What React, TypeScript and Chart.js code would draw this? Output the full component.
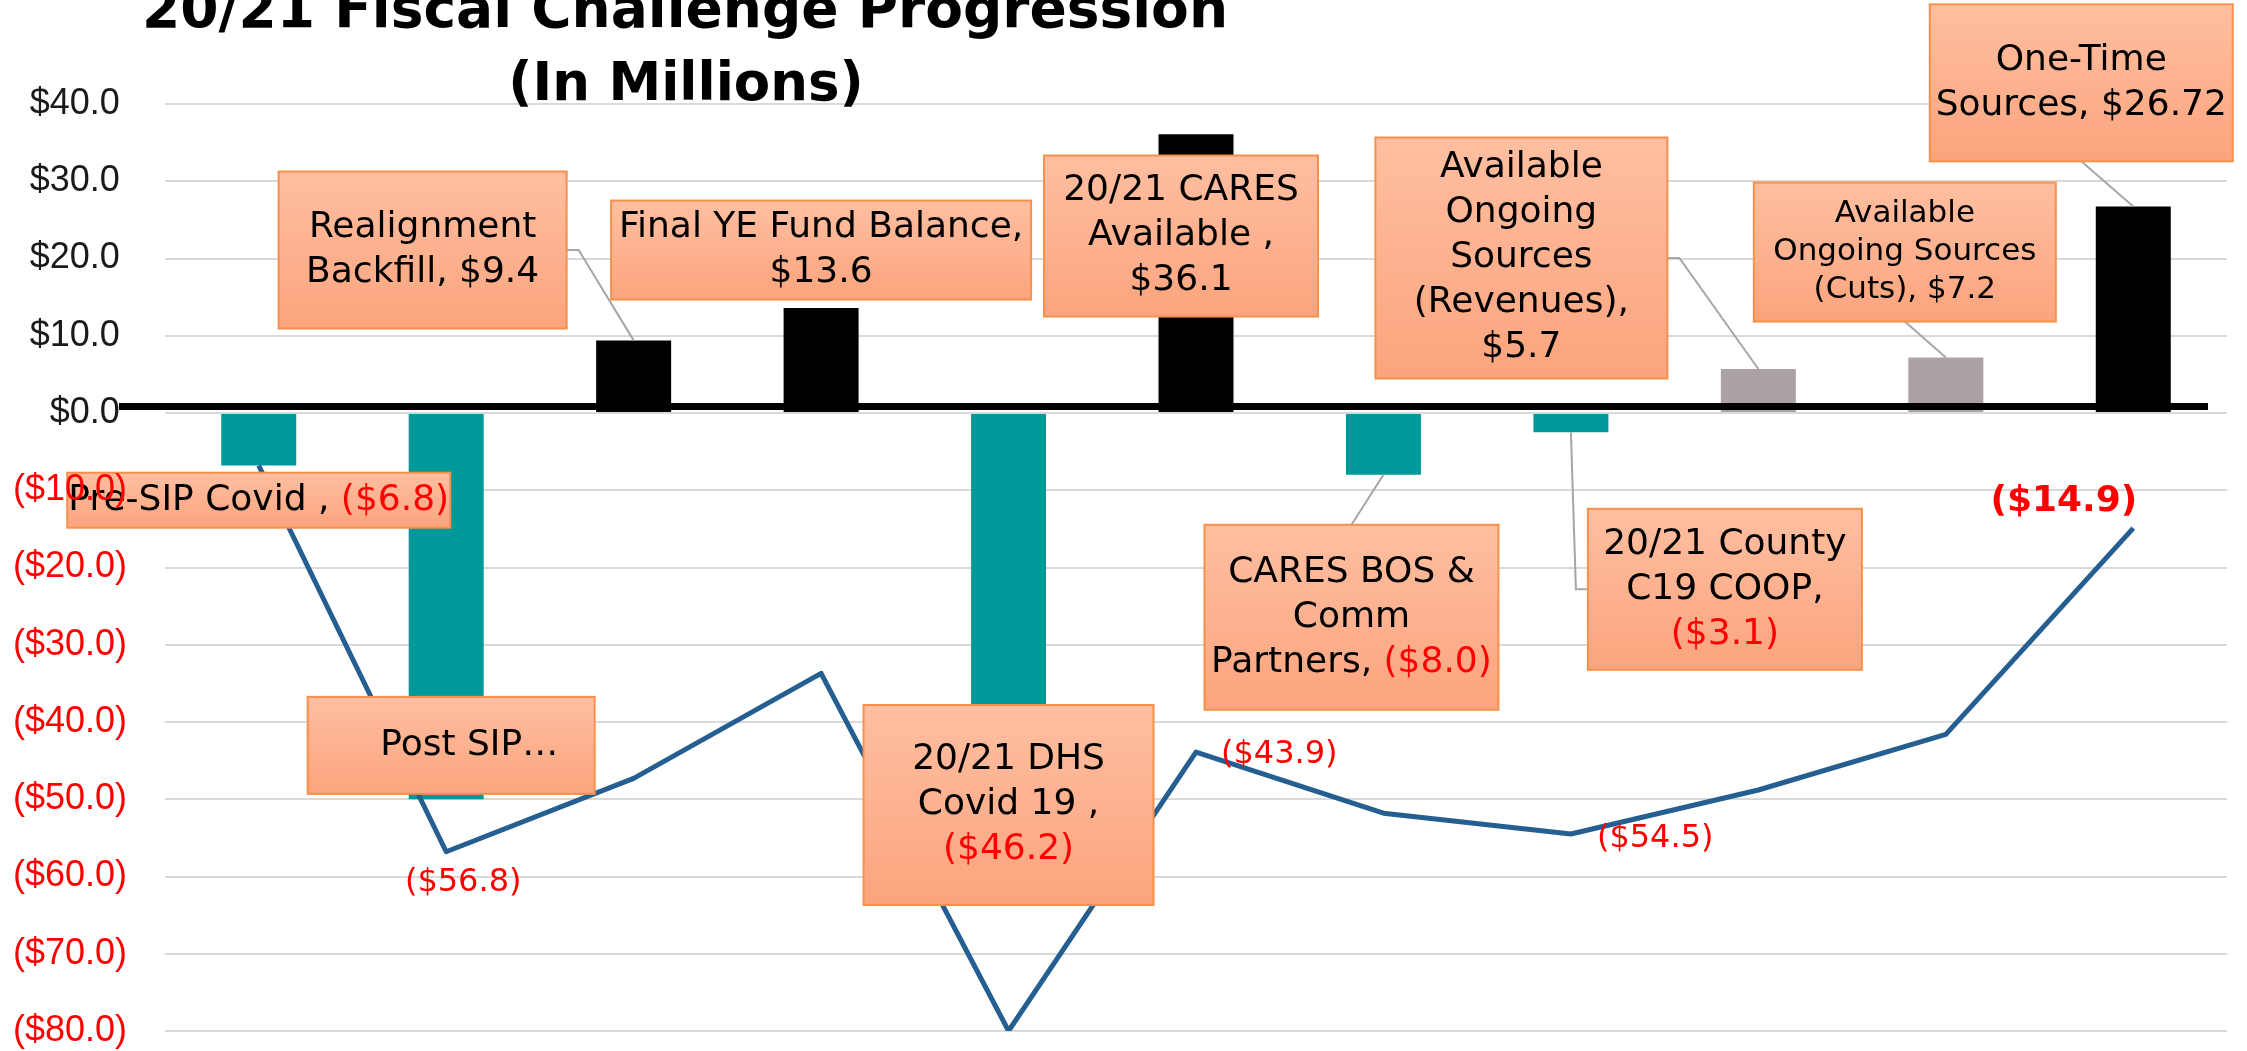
import React, { useEffect, useRef } from 'react';
import { Chart, registerables } from 'chart.js';

Chart.register(...registerables);

// ---------- DATA ----------
const categories = [
  'Pre-SIP Covid',
  'Post SIP…',
  'Realignment Backfill',
  'Final YE Fund Balance',
  '20/21 DHS Covid 19',
  '20/21 CARES Available',
  'CARES BOS & Comm Partners',
  '20/21 County C19 COOP',
  'Available Ongoing Sources (Revenues)',
  'Available Ongoing Sources (Cuts)',
  'One-Time Sources',
];
const changeValues = [-6.8, -50.0, 9.4, 13.6, -46.2, 36.1, -8.0, -2.5, 5.7, 7.2, 26.72];
const runningTotal = [-6.8, -56.8, -47.3, -33.7, -80.0, -43.9, -51.8, -54.5, -48.8, -41.6, -14.9];
const barKinds = ['loss', 'loss', 'source', 'source', 'loss', 'source', 'loss', 'loss', 'ongoing', 'ongoing', 'source'];
const lineLabels = ['', '($56.8)', '', '', '', '($43.9)', '', '($54.5)', '', '', '($14.9)'];
const yMin = -80;
const yMax = 40;
const yStep = 10;
const titleLines = ['20/21 Fiscal Challenge Progression', '(In Millions)'];

const BLACK = '#000000';
const RED = '#FF0000';
type Seg = [string, string];
// callout text per category (lines of coloured segments)
const calloutTexts: Seg[][][] = [
  [[['Pre-SIP Covid , ', BLACK], ['($6.8)', RED]]],
  [[['Post SIP…', BLACK]]],
  [[['Realignment', BLACK]], [['Backfill, $9.4', BLACK]]],
  [[['Final YE Fund Balance,', BLACK]], [['$13.6', BLACK]]],
  [[['20/21 DHS', BLACK]], [['Covid 19 ,', BLACK]], [['($46.2)', RED]]],
  [[['20/21 CARES', BLACK]], [['Available ,', BLACK]], [['$36.1', BLACK]]],
  [[['CARES BOS &', BLACK]], [['Comm', BLACK]], [['Partners, ', BLACK], ['($8.0)', RED]]],
  [[['20/21 County', BLACK]], [['C19 COOP,', BLACK]], [['($3.1)', RED]]],
  [[['Available', BLACK]], [['Ongoing', BLACK]], [['Sources', BLACK]], [['(Revenues),', BLACK]], [['$5.7', BLACK]]],
  [[['Available', BLACK]], [['Ongoing Sources', BLACK]], [['(Cuts), $7.2', BLACK]]],
  [[['One-Time', BLACK]], [['Sources, $26.72', BLACK]]],
];

// ---------- STYLE ----------
const kindColors: Record<string, string> = { loss: '#009999', source: '#000000', ongoing: '#ABA3A3' };
const FONT = '"DejaVu Sans"';

type Leader = { from: [number, number]; elbow?: [number, number] } | null;
type Layout = { dx: number; top: number; w: number; h: number; size?: number; lh?: number; textDx?: number; leader: Leader };
// dx: offset of box centre from category centre (px); top: box top in axis units
const calloutLayouts: Layout[] = [
  { dx: 0, top: -7.73, w: 383, h: 55, leader: null },
  { dx: 5, top: -36.75, w: 287, h: 97, textDx: 18, leader: null },
  { dx: -211, top: 31.26, w: 288, h: 157, leader: { from: [1, 0.5], elbow: [12, 0] } },
  { dx: 0, top: 27.5, w: 420, h: 99, leader: null },
  { dx: 0, top: -37.8, w: 290, h: 200, leader: null },
  { dx: -15, top: 33.33, w: 274, h: 161, leader: null },
  { dx: -32, top: -14.47, w: 294, h: 185, leader: { from: [0.5, 0] } },
  { dx: 154, top: -12.4, w: 274, h: 161, leader: { from: [0, 0.5], elbow: [-12, 0] } },
  { dx: -237, top: 35.66, w: 292, h: 241, leader: { from: [1, 0.5], elbow: [12, 0] } },
  { dx: -41, top: 29.83, w: 302, h: 139, size: 31, lh: 38, leader: { from: [0.5, 1] } },
  { dx: -52, top: 52.9, w: 303, h: 157, leader: { from: [0.5, 1] } },
];
type LblPos = { align: CanvasTextAlign; dx: number; dy: number; bold?: boolean; size: number };
const lineLabelPos: (LblPos | null)[] = [
  null,
  { align: 'center', dx: 17, dy: 31, size: 32 },
  null, null, null,
  { align: 'left', dx: 25, dy: 3, size: 32 },
  null,
  { align: 'left', dx: 26, dy: 5, size: 32 },
  null, null,
  { align: 'right', dx: 4, dy: -26, size: 36, bold: true },
];

function drawSegLine(ctx: CanvasRenderingContext2D, segs: Seg[], cx: number, cy: number) {
  const widths = segs.map((s) => ctx.measureText(s[0]).width);
  const total = widths.reduce((a, b) => a + b, 0);
  let x = cx - total / 2;
  ctx.textAlign = 'left';
  ctx.textBaseline = 'middle';
  segs.forEach((s, k) => {
    ctx.fillStyle = s[1];
    ctx.fillText(s[0], x, cy);
    x += widths[k];
  });
}

const overlayPlugin = {
  id: 'overlay',
  afterDatasetsDraw(chart: any) {
    const ctx: CanvasRenderingContext2D = chart.ctx;
    const xs = chart.scales.x;
    const ys = chart.scales.y;
    const area = chart.chartArea;
    ctx.save();

    // thick zero baseline
    const y0 = ys.getPixelForValue(0) - 6.5;
    ctx.strokeStyle = '#000000';
    ctx.lineWidth = 7;
    ctx.beginPath();
    ctx.moveTo(area.left - 46, y0);
    ctx.lineTo(area.right - 19, y0);
    ctx.stroke();

    // running-total data labels
    lineLabels.forEach((txt, i) => {
      const p = lineLabelPos[i];
      if (!txt || !p) return;
      const px = xs.getPixelForValue(i);
      const py = ys.getPixelForValue(runningTotal[i]);
      ctx.font = `${p.bold ? 'bold ' : ''}${p.size}px ${FONT}`;
      ctx.fillStyle = RED;
      ctx.textAlign = p.align;
      ctx.textBaseline = 'middle';
      ctx.fillText(txt, px + p.dx, py + p.dy);
    });

    // callouts
    calloutLayouts.forEach((L, i) => {
      const cx = xs.getPixelForValue(i) + L.dx;
      const top = ys.getPixelForValue(L.top);
      const left = cx - L.w / 2;
      if (L.leader) {
        const sx = left + L.leader.from[0] * L.w;
        const sy = top + L.leader.from[1] * L.h;
        const ex = xs.getPixelForValue(i);
        const ey = ys.getPixelForValue(changeValues[i]);
        ctx.strokeStyle = '#A6A6A6';
        ctx.lineWidth = 2;
        ctx.beginPath();
        ctx.moveTo(sx, sy);
        if (L.leader.elbow) ctx.lineTo(sx + L.leader.elbow[0], sy + L.leader.elbow[1]);
        ctx.lineTo(ex, ey);
        ctx.stroke();
      }
      const g = ctx.createLinearGradient(0, top, 0, top + L.h);
      g.addColorStop(0, '#FFBFA1');
      g.addColorStop(1, '#FBA47D');
      ctx.fillStyle = g;
      ctx.fillRect(left, top, L.w, L.h);
      ctx.strokeStyle = '#F7904A';
      ctx.lineWidth = 2;
      ctx.strokeRect(left, top, L.w, L.h);
      const size = L.size || 36;
      const lh = L.lh || 45;
      ctx.font = `${size}px ${FONT}`;
      const lines = calloutTexts[i];
      const cy = top + L.h / 2;
      lines.forEach((segs, k) => {
        drawSegLine(ctx, segs, cx + (L.textDx || 0), cy + (k - (lines.length - 1) / 2) * lh);
      });
    });
    ctx.restore();
  },
  afterDraw(chart: any) {
    const ctx: CanvasRenderingContext2D = chart.ctx;
    ctx.save();
    ctx.fillStyle = '#000000';
    ctx.textAlign = 'center';
    ctx.textBaseline = 'alphabetic';
    ctx.font = `bold 55px ${FONT}`;
    ctx.fillText(titleLines[0], 685, 27);
    ctx.font = `bold 53px ${FONT}`;
    ctx.fillText(titleLines[1], 686, 100);
    ctx.restore();
  },
};

export default function App() {
  const ref = useRef<HTMLCanvasElement>(null);
  useEffect(() => {
    if (!ref.current) return;
    const chart = new Chart(ref.current, {
      type: 'bar',
      data: {
        labels: categories,
        datasets: [
          {
            type: 'line',
            label: 'Running total',
            data: runningTotal,
            borderColor: '#255E91',
            borderWidth: 5,
            pointRadius: 0,
            tension: 0,
            borderJoinStyle: 'round',
            order: 1,
          } as any,
          {
            type: 'bar',
            label: 'Change',
            data: changeValues,
            backgroundColor: barKinds.map((k) => kindColors[k]),
            borderWidth: 0,
            barPercentage: 0.4,
            categoryPercentage: 1,
            order: 2,
          },
        ],
      },
      options: {
        responsive: false,
        devicePixelRatio: 1,
        animation: false,
        layout: { padding: { left: 0, right: 20, top: 104, bottom: 20 } },
        plugins: { legend: { display: false }, tooltip: { enabled: false }, title: { display: false } },
        scales: {
          x: { display: false },
          y: {
            min: yMin,
            max: yMax,
            afterFit: (s: any) => {
              s.width = 165;
              s.paddingTop = 0;
              s.paddingBottom = 0;
            },
            ticks: {
              stepSize: yStep,
              padding: 38,
              z: 1,
              font: { family: 'Liberation Sans', size: 36 },
              color: (c: any) => (c.tick && c.tick.value < 0 ? RED : '#1A1A1A'),
              callback: (v: any) => {
                const n = Number(v);
                return n < 0 ? `($${(-n).toFixed(1)})` : `$${n.toFixed(1)}\u2009`;
              },
            },
            grid: { color: '#D9D9D9', lineWidth: 2, drawTicks: false },
            border: { display: false },
          },
        },
      },
      plugins: [overlayPlugin],
    } as any);
    return () => chart.destroy();
  }, []);
  return (
    <div style={{ position: 'absolute', left: 0, top: 0, width: 2247, height: 1051, background: '#fff' }}>
      <canvas ref={ref} width={2247} height={1051} style={{ display: 'block' }} />
    </div>
  );
}
